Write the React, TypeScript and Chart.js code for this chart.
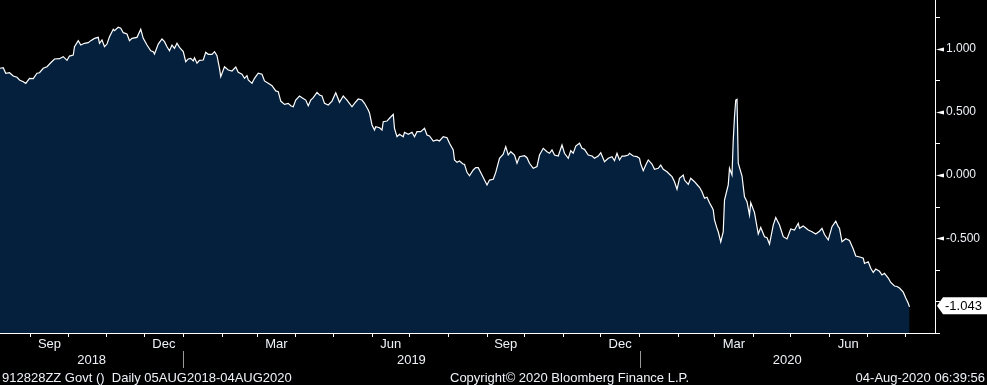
import React, { useEffect, useRef } from 'react';
import { Chart, registerables } from 'chart.js';

Chart.register(...registerables);

// ---------- DATA ----------
const START_DATE = '2018-08-05'; // day 0 of the series
// days since START_DATE
const dayOffsets = [
  2, 5, 7, 10, 13, 16, 18, 21, 23, 26, 29, 32, 34, 37, 40, 43, 46, 50, 53, 56, 58, 61, 62, 65, 67, 70, 73, 75, 78, 81,
  82, 84, 86, 88, 90, 93, 94, 97, 99, 101, 104, 106, 108, 112, 115, 117, 120, 123, 125, 126, 129, 132, 134, 136, 138, 140, 142, 144, 146, 149,
  151, 153, 155, 157, 158, 160, 162, 165, 167, 169, 172, 174, 176, 178, 179, 182, 185, 188, 191, 193, 196, 198, 200, 201, 204, 206, 209, 212, 214, 217,
  220, 223, 225, 227, 230, 233, 235, 237, 239, 242, 244, 247, 249, 251, 253, 256, 258, 260, 262, 265, 268, 271, 274, 277, 280, 284, 286, 289, 292, 294,
  297, 298, 300, 302, 303, 306, 308, 309, 312, 314, 317, 318, 320, 322, 325, 326, 329, 332, 334, 336, 339, 342, 344, 346, 349, 352, 354, 357, 360, 362,
  365, 366, 368, 370, 373, 374, 376, 378, 381, 383, 385, 388, 390, 392, 394, 397, 399, 402, 405, 407, 409, 411, 414, 416, 418, 422, 424, 426, 429, 432,
  434, 437, 440, 442, 444, 446, 449, 452, 454, 457, 459, 461, 463, 466, 468, 470, 473, 476, 478, 481, 483, 486, 489, 492, 494, 496, 498, 500, 502, 505,
  506, 509, 512, 514, 515, 517, 519, 521, 524, 526, 529, 531, 533, 536, 538, 540, 542, 544, 546, 549, 550, 553, 555, 558, 561, 562, 564, 566, 568, 570,
  572, 573, 574, 576, 577, 579, 581, 582, 585, 586, 588, 589, 590, 591, 592, 593, 596, 598, 600, 602, 603, 606, 609, 611, 614, 616, 618, 621, 623, 626,
  629, 632, 635, 638, 641, 642, 645, 649, 652, 655, 658, 660, 662, 665, 668, 671, 673, 674, 676, 679, 682, 685, 687, 691, 693, 694, 697, 699, 701, 703,
  706, 708, 710, 713, 715, 718, 720, 722, 725, 727, 729, 730,
];
const yieldValues = [
  0.844, 0.849, 0.805, 0.809, 0.783, 0.773, 0.752, 0.738, 0.725, 0.765, 0.762, 0.805, 0.809, 0.844, 0.857, 0.888, 0.918, 0.920, 0.936, 0.907, 0.941, 0.949, 1.015, 1.063, 1.028, 1.042, 1.047, 1.063, 1.081, 1.089,
  1.042, 1.068, 1.015, 1.036, 1.094, 1.153, 1.142, 1.169, 1.161, 1.126, 1.116, 1.063, 1.081, 1.089, 1.153, 1.081, 1.028, 0.983, 0.976, 0.957, 1.036, 1.076, 1.055, 1.015, 0.983, 1.028, 1.002, 1.042, 1.010, 0.976,
  0.896, 0.918, 0.923, 0.902, 0.928, 0.884, 0.907, 0.910, 0.971, 0.955, 0.955, 0.976, 0.944, 0.844, 0.778, 0.857, 0.831, 0.823, 0.854, 0.812, 0.797, 0.765, 0.786, 0.752, 0.725, 0.765, 0.805, 0.797, 0.744, 0.725,
  0.706, 0.665, 0.659, 0.585, 0.559, 0.567, 0.548, 0.540, 0.593, 0.625, 0.612, 0.593, 0.548, 0.593, 0.612, 0.654, 0.633, 0.625, 0.567, 0.554, 0.585, 0.651, 0.575, 0.625, 0.593, 0.540, 0.567, 0.601, 0.593, 0.567,
  0.514, 0.491, 0.396, 0.356, 0.382, 0.374, 0.356, 0.422, 0.427, 0.449, 0.480, 0.369, 0.303, 0.322, 0.303, 0.338, 0.322, 0.338, 0.303, 0.343, 0.343, 0.369, 0.316, 0.309, 0.269, 0.277, 0.269, 0.303, 0.295, 0.251,
  0.198, 0.119, 0.100, 0.111, 0.085, 0.085, 0.021, -0.006, 0.040, 0.058, 0.058, 0.000, -0.040, -0.079, -0.040, -0.034, 0.021, 0.132, 0.164, 0.224, 0.158, 0.184, 0.158, 0.093, 0.145, 0.153, 0.137, 0.093, 0.053, 0.066,
  0.158, 0.211, 0.184, 0.172, 0.198, 0.158, 0.150, 0.237, 0.172, 0.132, 0.192, 0.172, 0.229, 0.251, 0.211, 0.203, 0.158, 0.150, 0.132, 0.150, 0.176, 0.105, 0.132, 0.145, 0.113, 0.172, 0.119, 0.150, 0.150, 0.158,
  0.172, 0.150, 0.145, 0.132, 0.087, 0.034, 0.079, 0.119, 0.087, 0.045, 0.053, 0.079, 0.045, 0.026, 0.006, -0.013, -0.053, -0.113, -0.026, 0.000, -0.040, -0.074, -0.026, -0.053, -0.087, -0.097, -0.132, -0.184, -0.176, -0.219,
  -0.256, -0.277, -0.356, -0.422, -0.449, -0.530, -0.449, -0.198, -0.079, 0.053, 0.000, 0.277, 0.461, 0.593, 0.599, 0.093, -0.008, -0.172, -0.211, -0.316, -0.218, -0.297, -0.467, -0.415, -0.488, -0.496, -0.546, -0.396, -0.336, -0.396,
  -0.488, -0.506, -0.427, -0.435, -0.382, -0.422, -0.403, -0.435, -0.449, -0.467, -0.445, -0.422, -0.471, -0.514, -0.409, -0.366, -0.409, -0.422, -0.528, -0.504, -0.518, -0.585, -0.641, -0.651, -0.659, -0.700, -0.686, -0.738, -0.771, -0.744,
  -0.762, -0.791, -0.778, -0.815, -0.850, -0.878, -0.882, -0.894, -0.927, -0.973, -1.015, -1.043,
];

// axis range (days since START_DATE) and value range
const X_MIN = 2.4;
const X_MAX = 750.4;
const Y_MIN = -1.25;
const Y_MAX = 1.3845;

const yMajorTicks = [1.0, 0.5, 0.0, -0.5];
const yMinorTicks = [1.25, 0.75, 0.25, -0.25, -0.75, -1.0, -1.25];

const monthLabelNames = ['Sep', 'Dec', 'Mar', 'Jun', 'Sep', 'Dec', 'Mar', 'Jun'];
const monthLabelMonths = ['2018-09', '2018-12', '2019-03', '2019-06', '2019-09', '2019-12', '2020-03', '2020-06'];
const yearLabels = ['2018', '2019', '2020'];
const yearBoundaries = ['2019-01-01', '2020-01-01'];

const footerLeft = '912828ZZ Govt ()  Daily 05AUG2018-04AUG2020';
const footerCenter = 'Copyright\u00A9 2020 Bloomberg Finance L.P.';
const footerRight = '04-Aug-2020 06:39:56';

// ---------- helpers ----------
function dayOf(iso: string): number {
  const [y, m, d] = iso.split('-').map(Number);
  const [sy, sm, sd] = START_DATE.split('-').map(Number);
  return (Date.UTC(y, m - 1, d || 1) - Date.UTC(sy, sm - 1, sd)) / 86400000;
}

function monthStarts(): number[] {
  const out: number[] = [];
  for (let y = 2018; y <= 2020; y++) {
    for (let m = 1; m <= 12; m++) {
      const v = dayOf(`${y}-${String(m).padStart(2, '0')}-01`);
      if (v > X_MIN && v < X_MAX) out.push(v);
    }
  }
  return out;
}

function nextMonth(ym: string): string {
  let [y, m] = ym.split('-').map(Number);
  m += 1;
  if (m > 12) { m = 1; y += 1; }
  return `${y}-${String(m).padStart(2, '0')}-01`;
}

const FONT = '"Liberation Sans", Arial, sans-serif';
const TEXT = '#eef2f7';

const bloombergPlugin = {
  id: 'bloombergDecor',
  afterDraw(chart: any) {
    const { ctx, chartArea } = chart;
    const xs = chart.scales.x;
    const ys = chart.scales.y;
    const right = chartArea.right;
    const bottom = chartArea.bottom;
    ctx.save();

    // y tick marks
    ctx.fillStyle = '#ffffff';
    ctx.strokeStyle = '#ffffff';
    ctx.lineWidth = 1;
    yMinorTicks.forEach((v) => {
      const py = Math.round(ys.getPixelForValue(v)) + 0.5;
      ctx.beginPath();
      ctx.moveTo(right, py);
      ctx.lineTo(right + 5, py);
      ctx.stroke();
    });
    yMajorTicks.forEach((v) => {
      const py = Math.round(ys.getPixelForValue(v)) + 0.5;
      ctx.beginPath();
      ctx.moveTo(right + 1, py);
      ctx.lineTo(right + 9, py - 2);
      ctx.lineTo(right + 9, py + 2);
      ctx.closePath();
      ctx.fill();
    });

    // last value box
    const last = yieldValues[yieldValues.length - 1];
    const ly = ys.getPixelForValue(last) - 1;
    ctx.beginPath();
    ctx.moveTo(right + 2, ly);
    ctx.lineTo(right + 8, ly - 8.5);
    ctx.lineTo(chart.width, ly - 8.5);
    ctx.lineTo(chart.width, ly + 8.5);
    ctx.lineTo(right + 8, ly + 8.5);
    ctx.closePath();
    ctx.fillStyle = '#ffffff';
    ctx.fill();
    ctx.fillStyle = '#000000';
    ctx.font = `13px ${FONT}`;
    ctx.textAlign = 'left';
    ctx.textBaseline = 'middle';
    ctx.fillText(last.toFixed(3), right + 10, ly + 1);

    // month labels
    ctx.fillStyle = TEXT;
    ctx.font = `13px ${FONT}`;
    ctx.textAlign = 'center';
    ctx.textBaseline = 'alphabetic';
    monthLabelNames.forEach((name, i) => {
      const a = xs.getPixelForValue(dayOf(monthLabelMonths[i] + '-01'));
      const b = xs.getPixelForValue(dayOf(nextMonth(monthLabelMonths[i])));
      ctx.fillText(name, (a + b) / 2, bottom + 15);
    });

    // year labels and separators
    const bounds = [chartArea.left, ...yearBoundaries.map((d) => xs.getPixelForValue(dayOf(d))), right];
    yearLabels.forEach((yl, i) => {
      ctx.fillText(yl, (bounds[i] + bounds[i + 1]) / 2, bottom + 31);
    });
    ctx.strokeStyle = '#9a9a9a';
    yearBoundaries.forEach((d) => {
      const px = Math.round(xs.getPixelForValue(dayOf(d))) + 0.5;
      ctx.beginPath();
      ctx.moveTo(px, bottom + 18);
      ctx.lineTo(px, bottom + 35);
      ctx.stroke();
    });

    // footer
    ctx.fillStyle = TEXT;
    ctx.textAlign = 'left';
    ctx.fillText(footerLeft, 2, bottom + 49);
    ctx.fillText(footerCenter, 450, bottom + 49);
    ctx.textAlign = 'right';
    ctx.fillText(footerRight, chart.width - 2, bottom + 49);

    ctx.restore();
  },
};

export default function App() {
  const canvasRef = useRef<HTMLCanvasElement | null>(null);

  useEffect(() => {
    const canvas = canvasRef.current;
    if (!canvas) return;
    const points = dayOffsets.map((d, i) => ({ x: d, y: yieldValues[i] }));
    const ticksMonth = monthStarts();
    const chart = new Chart(canvas, {
      type: 'line',
      data: {
        datasets: [
          {
            data: points,
            borderColor: '#ffffff',
            borderWidth: 1.2,
            backgroundColor: '#04203d',
            fill: 'start',
            pointRadius: 0,
            tension: 0,
          },
        ],
      },
      options: {
        animation: false,
        responsive: false,
        devicePixelRatio: 1,
        layout: { padding: 0 },
        plugins: { legend: { display: false }, tooltip: { enabled: false } },
        scales: {
          x: {
            type: 'linear',
            min: X_MIN,
            max: X_MAX,
            afterBuildTicks: (s: any) => {
              s.ticks = ticksMonth.map((v) => ({ value: v }));
            },
            grid: { display: true, drawOnChartArea: false, drawTicks: true, tickLength: 4, color: '#ffffff', lineWidth: 1 },
            border: { display: true, color: '#ffffff', width: 1 },
            ticks: { display: false },
            afterFit: (s: any) => {
              s.height = 52;
              s.paddingLeft = 0;
              s.paddingRight = 0;
            },
          },
          y: {
            position: 'right',
            min: Y_MIN,
            max: Y_MAX,
            afterBuildTicks: (s: any) => {
              s.ticks = [...yMajorTicks, ...yMinorTicks].sort((a, b) => a - b).map((v) => ({ value: v }));
            },
            grid: { drawOnChartArea: false, drawTicks: false },
            border: { display: true, color: '#ffffff', width: 1 },
            ticks: {
              autoSkip: false,
              padding: 11,
              color: TEXT,
              font: { family: FONT, size: 12 },
              callback: (v: any) => (yMajorTicks.includes(Number(v)) ? Number(v).toFixed(3) : ''),
            },
            afterFit: (s: any) => {
              s.width = 52;
              s.paddingTop = 0;
              s.paddingBottom = 0;
            },
          },
        },
      },
      plugins: [bloombergPlugin],
    });
    return () => chart.destroy();
  }, []);

  return (
    <div style={{ position: 'absolute', left: 0, top: 0, width: 987, height: 385, background: '#000000' }}>
      <canvas ref={canvasRef} width={987} height={385} style={{ display: 'block' }} />
    </div>
  );
}
